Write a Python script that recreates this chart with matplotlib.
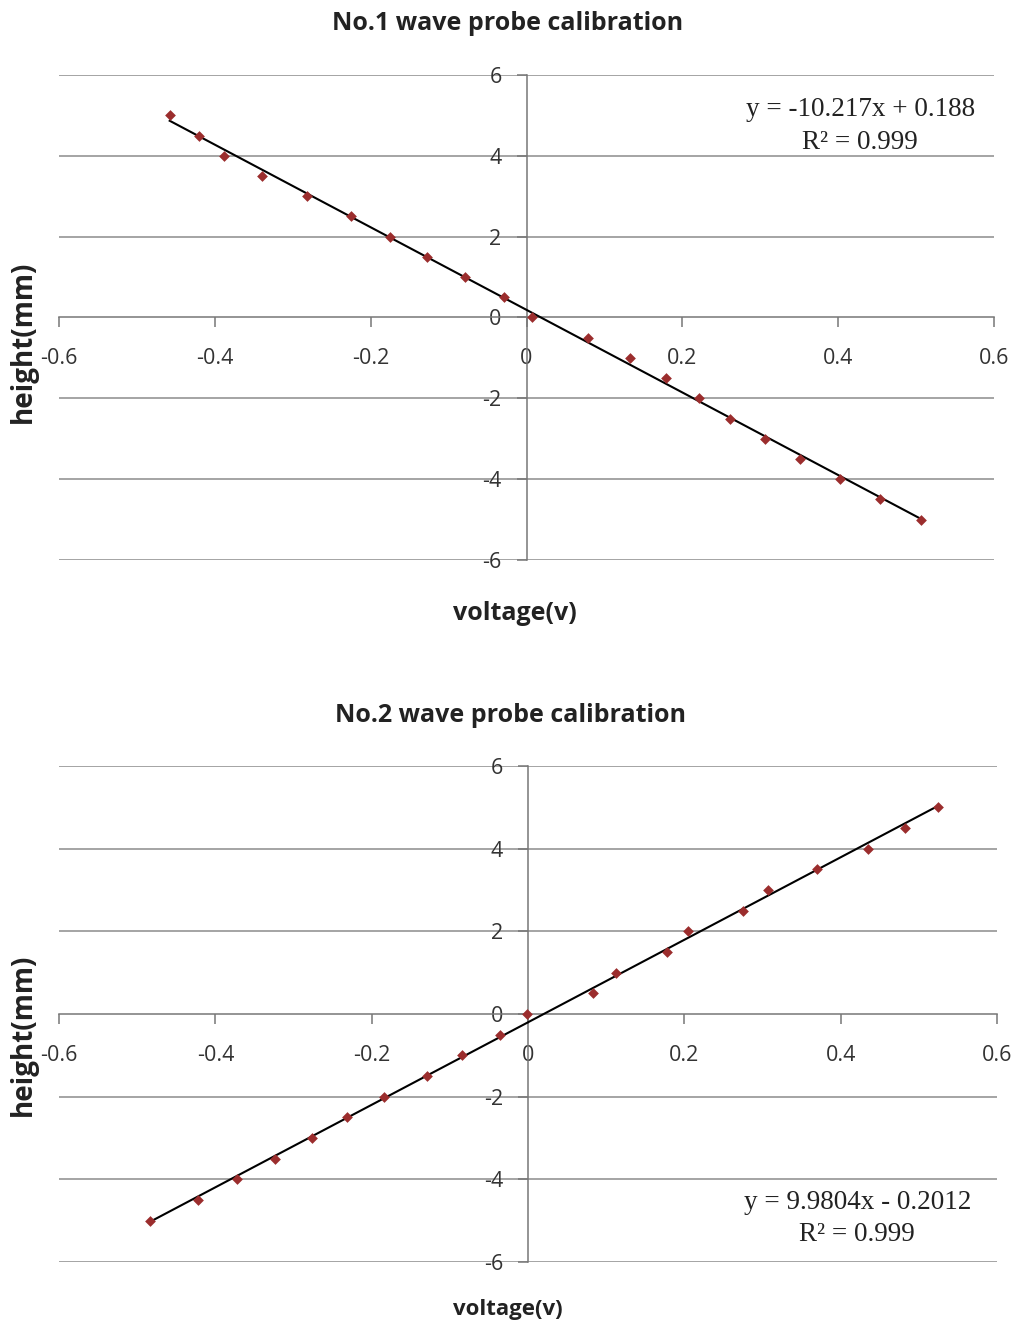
import numpy as np
import matplotlib
matplotlib.use("Agg")
import matplotlib.pyplot as plt

plt.rcParams["axes.unicode_minus"] = False

# Probe No.1 readings
voltage_1 = [-0.458, -0.420, -0.388, -0.340, -0.282, -0.225, -0.175, -0.128,
             -0.079, -0.029, 0.007, 0.079, 0.133, 0.179, 0.221, 0.261,
             0.306, 0.351, 0.402, 0.454, 0.506]
height_1 = [5.0, 4.5, 4.0, 3.5, 3.0, 2.5, 2.0, 1.5, 1.0, 0.5, 0.0, -0.5,
            -1.0, -1.5, -2.0, -2.5, -3.0, -3.5, -4.0, -4.5, -5.0]
slope_1, intercept_1, r2_1 = -10.217, 0.188, 0.999

# Probe No.2 readings
voltage_2 = [-0.484, -0.422, -0.372, -0.324, -0.276, -0.232, -0.184, -0.129,
             -0.084, -0.036, -0.001, 0.083, 0.113, 0.178, 0.205, 0.275,
             0.307, 0.370, 0.435, 0.482, 0.525]
height_2 = [-5.0, -4.5, -4.0, -3.5, -3.0, -2.5, -2.0, -1.5, -1.0, -0.5, 0.0,
            0.5, 1.0, 1.5, 2.0, 2.5, 3.0, 3.5, 4.0, 4.5, 5.0]
slope_2, intercept_2, r2_2 = 9.9804, -0.2012, 0.999

x_ticks = [-0.6, -0.4, -0.2, 0, 0.2, 0.4, 0.6]
x_ticklabels = ["-0.6", "-0.4", "-0.2", "0", "0.2", "0.4", "0.6"]
y_ticks = [-6, -4, -2, 0, 2, 4, 6]
y_ticklabels = ["-6", "-4", "-2", "0", "2", "4", "6"]

SANS = ["Open Sans", "DejaVu Sans"]
SERIF = ["Liberation Serif", "DejaVu Serif"]
MARKER = "#9b2d2d"
GRID = "#8c8c8c"
AXIS = "#777777"
TEXT = "#222222"

fig = plt.figure(figsize=(10.18, 13.27), dpi=100)


def calibration_panel(rect, volts, heights, slope, intercept, r2,
                      eq_xy, eq_text):
    ax = fig.add_axes(rect)
    ax.set_xlim(-0.6, 0.6)
    ax.set_ylim(-6, 6)
    for y in y_ticks:
        if y != 0:
            ax.axhline(y, color=GRID, lw=1.1, zorder=1)
    for side in ("top", "right"):
        ax.spines[side].set_visible(False)
    ax.spines["left"].set_position(("data", 0))
    ax.spines["bottom"].set_position(("data", 0))
    for side in ("left", "bottom"):
        ax.spines[side].set_color(AXIS)
        ax.spines[side].set_linewidth(1.1)
    ax.set_xticks(x_ticks)
    ax.set_xticklabels(x_ticklabels)
    ax.set_yticks(y_ticks)
    ax.set_yticklabels(y_ticklabels)
    ax.tick_params(axis="x", direction="out", length=7, width=1.1,
                   color=AXIS, pad=15, labelsize=15.5)
    ax.tick_params(axis="y", direction="out", length=7, width=1.1,
                   color=AXIS, pad=11, labelsize=15.5)
    for lab in ax.get_xticklabels() + ax.get_yticklabels():
        lab.set_family(SANS)
        lab.set_color("#333333")

    xs = np.array([min(volts), max(volts)])
    ax.plot(xs, slope * xs + intercept, color="black", lw=1.5, zorder=3)
    ax.scatter(volts, heights, marker="D", s=30, color=MARKER,
               zorder=4, linewidths=0)

    ax.text(eq_xy[0], eq_xy[1], eq_text + "\n" + f"R\u00b2 = {r2}",
            transform=ax.transAxes, ha="center", va="center",
            family=SERIF, fontsize=19.5, linespacing=1.4, color=TEXT)
    return ax


calibration_panel([0.058, 0.578, 0.9185, 0.3655], voltage_1, height_1,
                  slope_1, intercept_1, r2_1, (0.857, 0.895),
                  "y = -10.217x + 0.188")
calibration_panel([0.058, 0.049, 0.9214, 0.3738], voltage_2, height_2,
                  slope_2, intercept_2, r2_2, (0.851, 0.088),
                  "y = 9.9804x - 0.2012")

# Titles and axis labels
fig.text(0.499, 1 - 24 / 1327, "No.1 wave probe calibration", ha="center",
         va="center", fontsize=18, fontweight="bold", family=SANS, color=TEXT)
fig.text(0.506, 1 - 613 / 1327, "voltage(v)", ha="center", va="center",
         fontsize=18, fontweight="bold", family=SANS, color=TEXT)
fig.text(0.023, 1 - 342 / 1327, "height(mm)", ha="center", va="center",
         rotation=90, fontsize=20, fontweight="bold", family=SANS, color=TEXT)

fig.text(0.501, 1 - 715 / 1327, "No.2 wave probe calibration", ha="center",
         va="center", fontsize=18, fontweight="bold", family=SANS, color=TEXT)
fig.text(0.499, 1 - 1310 / 1327, "voltage(v)", ha="center", va="center",
         fontsize=16, fontweight="bold", family=SANS, color=TEXT)
fig.text(0.023, 1 - 1035 / 1327, "height(mm)", ha="center", va="center",
         rotation=90, fontsize=20, fontweight="bold", family=SANS, color=TEXT)

fig.savefig("out.png", dpi=100)
